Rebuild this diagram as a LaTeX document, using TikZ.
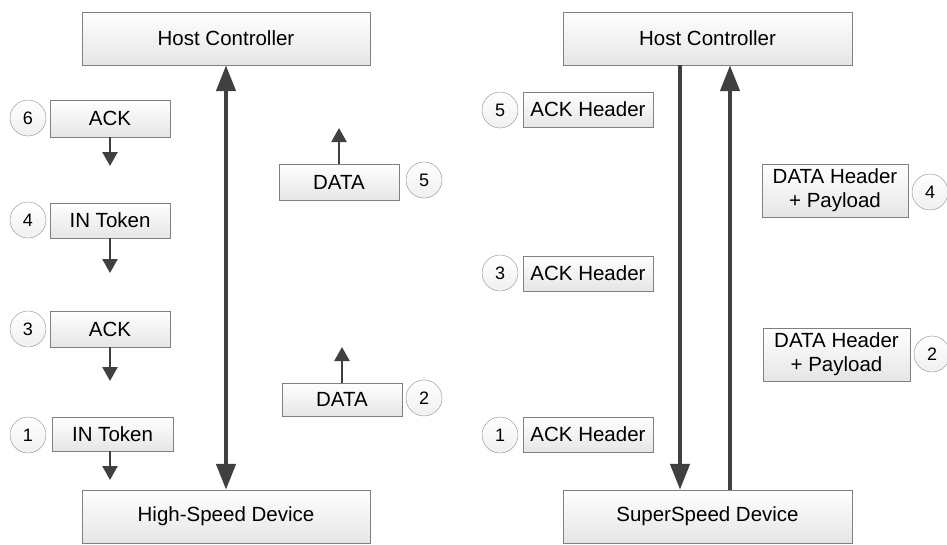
\documentclass[tikz,border=0pt]{standalone}
\usepackage{fontspec}
\setmainfont{Liberation Sans}
\usetikzlibrary{positioning,arrows.meta}

\tikzset{
  hostbox/.style={draw=black!50, top color=white, bottom color=gray!20, minimum width=288pt, minimum height=53pt, inner sep=0pt, font=\fontsize{20.5}{23}\selectfont},
  pkt/.style={draw=black!50, top color=white, bottom color=gray!20, minimum height=35pt, inner sep=0pt, align=center, font=\fontsize{20.5}{24}\selectfont},
  num/.style={circle, draw=black!45, top color=white, bottom color=gray!12, minimum size=36pt, inner sep=0pt, font=\fontsize{18}{18}\selectfont},
  bigarrow/.style={draw=black!75, line width=4.5pt, -{Triangle[length=26pt,width=19pt]}},
  bigboth/.style={draw=black!75, line width=4.5pt, {Triangle[length=26pt,width=19pt]}-{Triangle[length=26pt,width=19pt]}},
  smallarrow/.style={draw=black!75, line width=2.5pt, -{Triangle[length=14pt,width=15pt]}}
}

\begin{document}
\begin{tikzpicture}[x=1pt,y=-1pt]
  \useasboundingbox (0,0) rectangle (947,544);

  % high-speed side
  \node[hostbox] (hostL) at (226,38.5) {Host Controller};
  \node[hostbox] (devL) at (226,516.5) {High-Speed Device};
  \draw[bigboth] (hostL.south) -- (devL.north);

  \node[pkt, minimum width=120pt, minimum height=37pt] (ack6) at (110,118.5) {ACK};
  \node[num] (n6) at (28,118) {6};
  \node[pkt, minimum width=120pt] (tok4) at (110,220.5) {IN Token};
  \node[num] (n4) at (28,220) {4};
  \node[pkt, minimum width=120pt, minimum height=36pt] (ack3) at (110,329) {ACK};
  \node[num] (n3) at (28,329) {3};
  \node[pkt, minimum width=121pt, minimum height=34pt] (tok1) at (112.5,434) {IN Token};
  \node[num] (n1) at (28,435) {1};

  \node[pkt, minimum width=120pt, minimum height=36pt] (data5) at (339,182) {DATA};
  \node[num] (n5) at (424,180) {5};
  \node[pkt, minimum width=120pt, minimum height=33pt] (data2) at (342,399.5) {DATA};
  \node[num] (n2) at (424,398) {2};

  \coordinate (ack6end) at (110,166);
  \coordinate (tok4end) at (110,273);
  \coordinate (ack3end) at (110,381);
  \coordinate (tok1end) at (110,480);
  \coordinate (data5end) at (339,128);
  \coordinate (data2end) at (342,347);
  \draw[smallarrow] (ack6.south) -- (ack6end);
  \draw[smallarrow] (tok4.south) -- (tok4end);
  \draw[smallarrow] (ack3.south) -- (ack3end);
  \draw[smallarrow] (tok1.south -| tok1end) -- (tok1end);
  \draw[smallarrow] (data5.north) -- (data5end);
  \draw[smallarrow] (data2.north) -- (data2end);

  % superspeed side
  \node[hostbox, minimum width=289pt] (hostR) at (707.5,38.5) {Host Controller};
  \node[hostbox, minimum width=289pt] (devR) at (707.5,516.5) {SuperSpeed Device};
  \draw[bigarrow] ([xshift=-27.5pt]hostR.south) -- ([xshift=-27.5pt]devR.north);
  \draw[bigarrow] ([xshift=22.5pt]devR.north) -- ([xshift=22.5pt]hostR.south);

  \node[pkt, minimum width=130pt] (ackh5) at (588,109.5) {ACK Header};
  \node[num] (m5) at (500,110) {5};
  \node[pkt, minimum width=130pt] (ackh3) at (588,273.5) {ACK Header};
  \node[num] (m3) at (500,273) {3};
  \node[pkt, minimum width=130pt] (ackh1) at (588,434.5) {ACK Header};
  \node[num] (m1) at (500,435) {1};

  \node[pkt, minimum width=146pt, minimum height=53pt] (datah4) at (835,190.5) {DATA Header\\+ Payload};
  \node[num] (m4) at (930,192) {4};
  \node[pkt, minimum width=147pt, minimum height=53pt] (datah2) at (836.5,354.5) {DATA Header\\+ Payload};
  \node[num] (m2) at (932,354) {2};
\end{tikzpicture}
\end{document}
